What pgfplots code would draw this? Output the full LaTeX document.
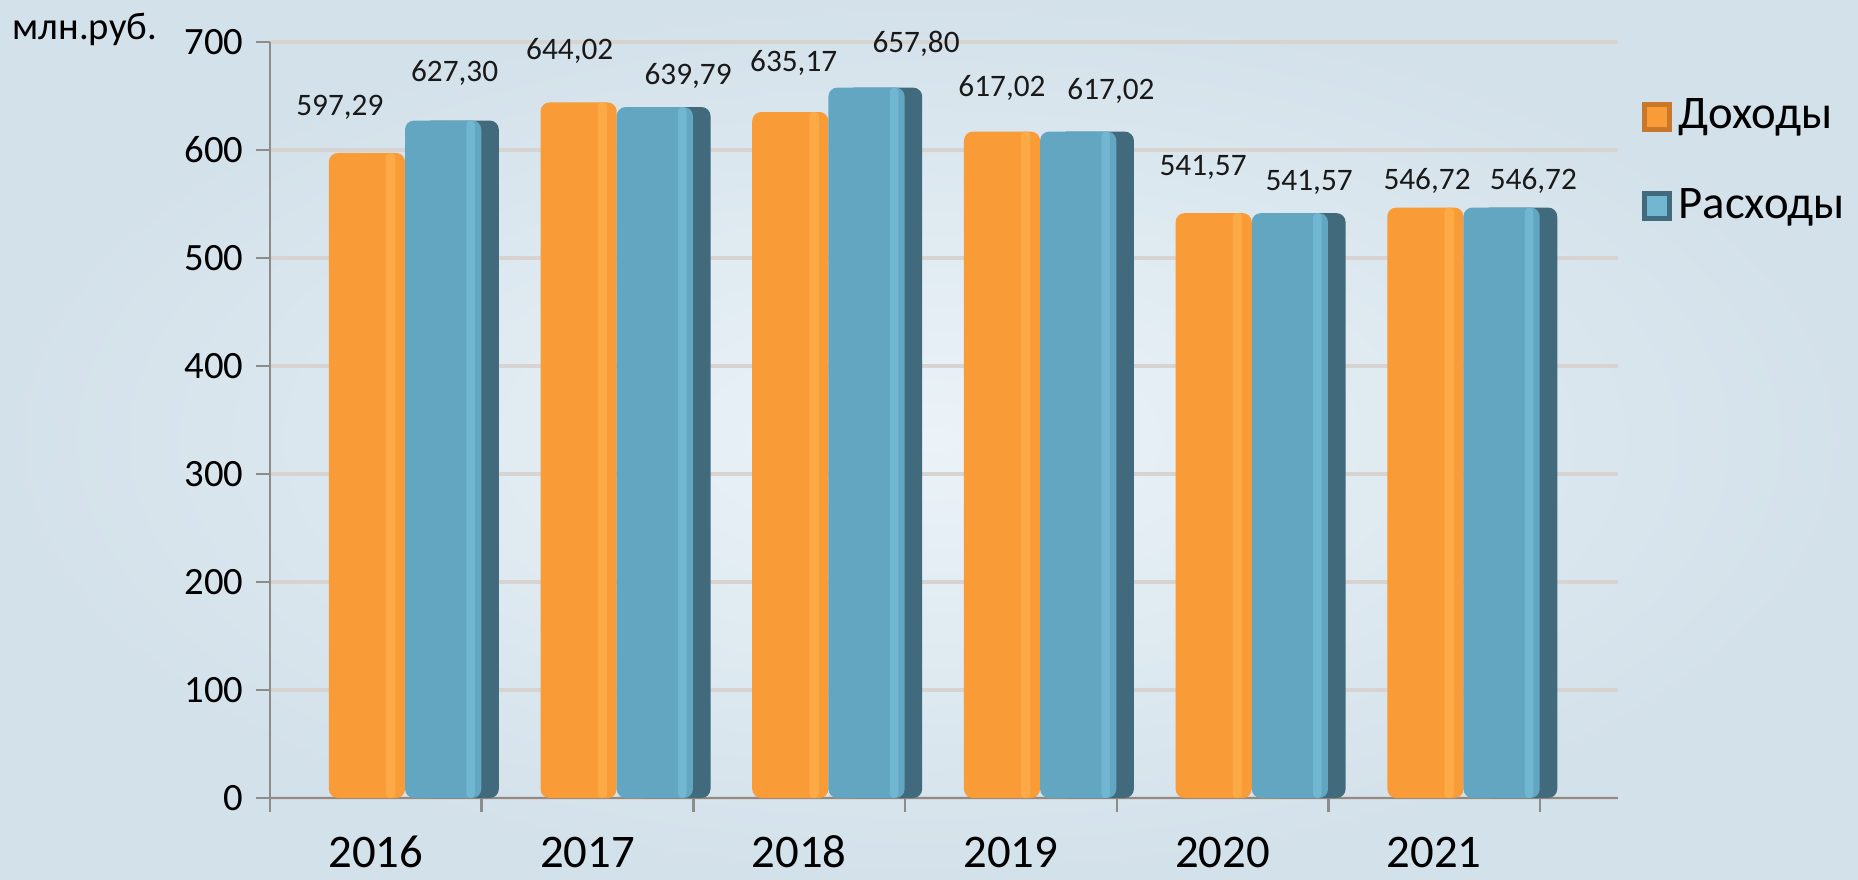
\documentclass[border=0pt]{standalone}
\usepackage{fontspec}
\setmainfont{Carlito}
\usepackage{pgfplots}
\usepackage{pgfplotstable}
\pgfplotsset{compat=1.18}

\definecolor{orE}{HTML}{C9772A}
\definecolor{orM}{HTML}{F99B36}
\definecolor{orL}{HTML}{FCAA45}
\definecolor{blM}{HTML}{63A6C2}
\definecolor{blL}{HTML}{71B7D1}
\definecolor{blD}{HTML}{416A7D}
\definecolor{gridc}{HTML}{D6D3D0}
\definecolor{axisc}{HTML}{8C8C8C}
\definecolor{bgIn}{HTML}{EBF3F8}
\definecolor{bgOut}{HTML}{D3E1EA}

\pgfplotstableread{
x doh ras
0 597.29 627.30
1 644.02 639.79
2 635.17 657.80
3 617.02 617.02
4 541.57 541.57
5 546.72 546.72
}\budget

% value labels, placed where the reference puts them
\pgfplotstableread{
x y lab
-0.170 631.5 597,29
0.372 663.2 627,30
0.916 683.3 644,02
1.475 660.2 639,79
1.974 672.5 635,17
2.552 689.5 657,80
2.958 648.8 617,02
3.473 646.3 617,02
3.908 576.2 541,57
4.409 562.0 541,57
4.966 563.0 546,72
5.468 563.0 546,72
}\labels

\begin{document}
\begin{tikzpicture}
\shade[inner color=bgIn, outer color=bgOut] (0,0) rectangle (185.8mm,87.9mm);
\node[anchor=base west, inner sep=0pt, font=\fontsize{11}{13}\selectfont] at (1.2mm,83.9mm) {млн.руб.};
\begin{axis}[
    at={(27mm,8.1mm)}, anchor=south west,
    scale only axis, width=134.8mm, height=75.6mm,
    xmin=-0.5, xmax=5.868, ymin=0, ymax=700,
    axis x line*=bottom, axis y line*=left,
    axis line style={axisc, line width=0.7pt},
    xtick={-0.5,0.5,...,5.5},
    xticklabels={2016,2017,2018,2019,2020,2021},
    x tick label as interval,
    ytick={0,100,...,700},
    tick align=outside, major tick length=1.4mm,
    tick style={axisc, line width=0.7pt},
    ymajorgrids, grid style={gridc, line width=0.9pt},
    /pgf/number format/assume math mode=true,
    xticklabel style={font=\fontsize{13.3}{13}\selectfont, text height=1.45ex,
        text depth=0pt, yshift=-1.9mm},
    yticklabel style={font=\fontsize{11}{11}\selectfont},
    clip=false,
    legend style={at={(1.017,0.935)}, anchor=north west, draw=none, fill=none,
        inner sep=0pt, row sep=4mm, font=\fontsize{13.3}{16}\selectfont},
    legend cell align=left,
]
% orange face and its light stripe
\addplot[ybar, bar width=0.36, bar shift=-0.042, draw=none, fill=orM,
    rounded corners=0.9mm,
    legend image code/.code={\fill[sharp corners, orE] (0mm,-1.5mm) rectangle (3mm,1.5mm);
        \fill[sharp corners, orM] (0.5mm,-1mm) rectangle (2.5mm,1mm);}]
    table[x=x, y=doh] {\budget};
\addlegendentry{Доходы}
\addplot[ybar, forget plot, bar width=0.045, bar shift=0.07, draw=none, fill=orL,
    rounded corners=0.4mm]
    table[x=x, y=doh] {\budget};
% blue: dark side, face, light stripe
\addplot[ybar, forget plot, bar width=0.36, bar shift=0.401, draw=none, fill=blD,
    rounded corners=0.9mm]
    table[x=x, y=ras] {\budget};
\addplot[ybar, bar width=0.36, bar shift=0.318, draw=none, fill=blM,
    rounded corners=0.9mm,
    legend image code/.code={\fill[sharp corners, blD] (0mm,-1.5mm) rectangle (3mm,1.5mm);
        \fill[sharp corners, blL] (0.5mm,-1mm) rectangle (2.5mm,1mm);}]
    table[x=x, y=ras] {\budget};
\addlegendentry{Расходы}
\addplot[ybar, forget plot, bar width=0.04, bar shift=0.448, draw=none, fill=blL,
    rounded corners=0.4mm]
    table[x=x, y=ras] {\budget};
\addplot[forget plot, draw=none, mark=none, nodes near coords, point meta=explicit symbolic,
    every node near coord/.append style={font=\fontsize{8.9}{9}\selectfont,
        inner sep=0pt, text depth=0pt, anchor=south, text=black!90}]
    table[x=x, y=y, meta=lab] {\labels};
\end{axis}
\end{tikzpicture}
\end{document}
